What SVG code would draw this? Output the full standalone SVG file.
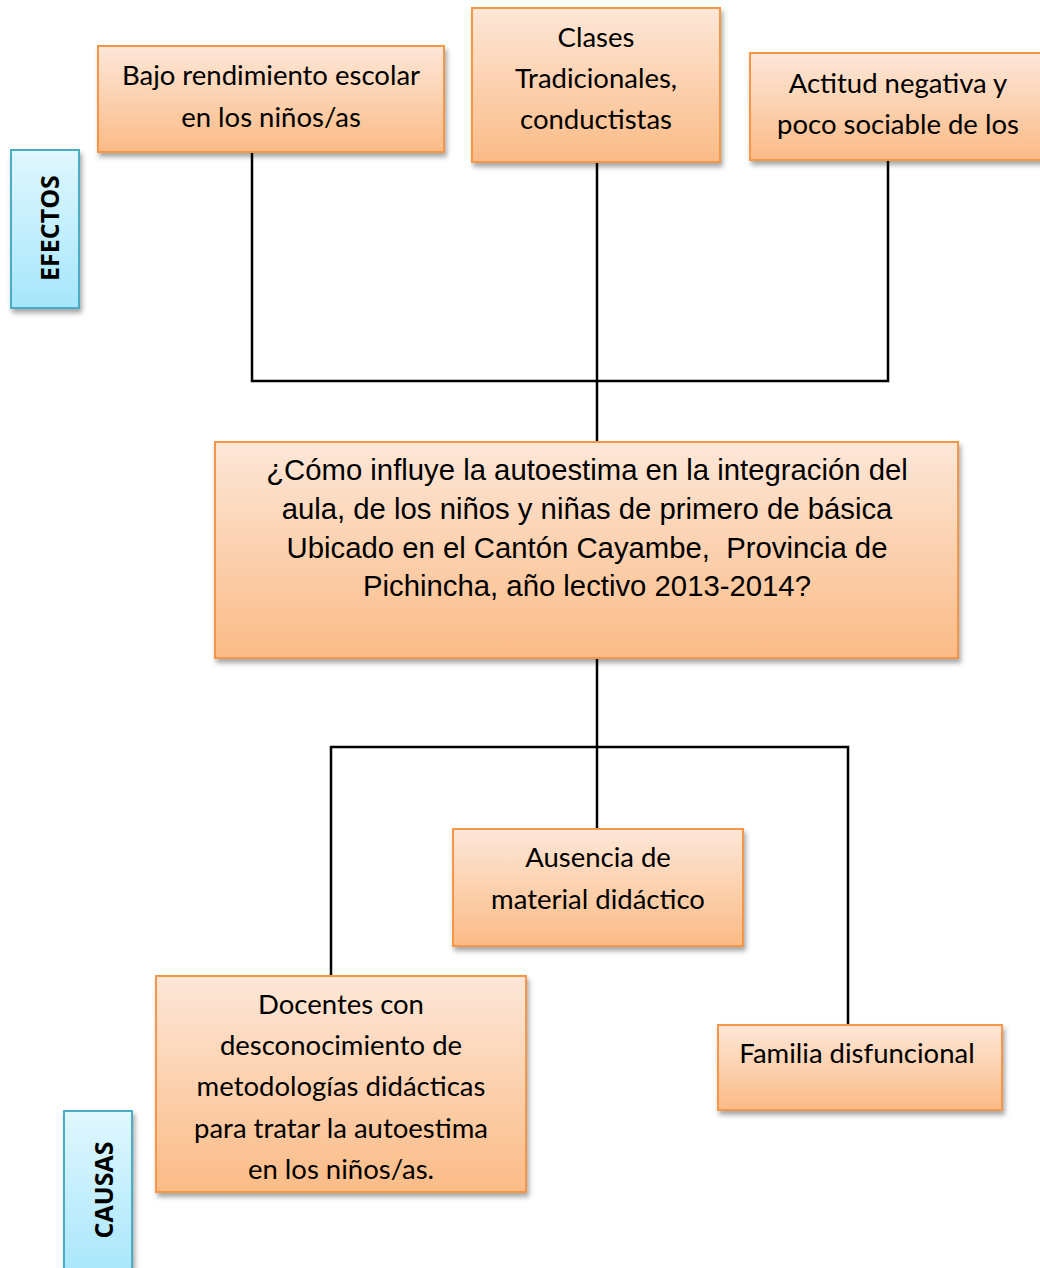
<svg xmlns="http://www.w3.org/2000/svg" width="1040" height="1268" viewBox="0 0 1040 1268">
<style>
.box{stroke:#f79646;stroke-width:2;fill:url(#og);filter:url(#sh)}
.lbl{stroke:#4bacc6;stroke-width:2;fill:url(#bg);filter:url(#sh)}
.t{font-family:Lato,"Open Sans","Liberation Sans",sans-serif;font-size:27.5px;fill:#000;text-anchor:middle;dominant-baseline:central}
.ta{font-family:"Liberation Sans",Arial,sans-serif;font-size:29.3px;fill:#000;text-anchor:middle;dominant-baseline:central}
.tv{font-family:"Open Sans","Liberation Sans",sans-serif;font-size:25px;font-weight:bold;fill:#000;text-anchor:middle;dominant-baseline:central}
.c{stroke:#000;stroke-width:2.5;fill:none;stroke-linecap:square}
</style>
<defs>
<linearGradient id="og" x1="0" y1="0" x2="0" y2="1"><stop offset="0" stop-color="#fde7d8"/><stop offset="1" stop-color="#fbbb86"/></linearGradient>
<linearGradient id="bg" x1="0" y1="0" x2="0" y2="1"><stop offset="0" stop-color="#e0f7fe"/><stop offset="1" stop-color="#a6e6fb"/></linearGradient>
<filter id="sh" x="-10%" y="-10%" width="130%" height="130%"><feDropShadow dx="2" dy="4" stdDeviation="2.5" flood-color="#000" flood-opacity="0.35"/></filter>
</defs>
<g id="connectors">
<path class="c" d="M252 153V381H888V161"/>
<path class="c" d="M597 163V441"/>
<path class="c" d="M597 659V830"/>
<path class="c" d="M331 976V747H848V1025"/>
</g>
<g id="efectos"><rect class="lbl" x="11" y="150" width="68" height="158"/><text class="tv" transform="translate(49 228) rotate(-90)">EFECTOS</text></g>
<g id="bajo"><rect class="box" x="98" y="46" width="346" height="106"/><text class="t" x="271" y="74">Bajo rendimiento escolar</text><text class="t" x="271" y="116">en los niños/as</text></g>
<g id="clases"><rect class="box" x="472" y="8" width="248" height="154"/><text class="t" x="596" y="36">Clases</text><text class="t" x="596" y="77">Tradicionales,</text><text class="t" x="596" y="118">conductistas</text></g>
<g id="actitud"><rect class="box" x="750" y="53" width="300" height="107"/><text class="t" x="898" y="82">Actitud negativa y</text><text class="t" x="898" y="123">poco sociable de los</text></g>
<g id="pregunta"><rect class="box" x="215" y="442" width="743" height="216"/><text class="ta" x="587" y="469">¿Cómo influye la autoestima en la integración del</text><text class="ta" x="587" y="508">aula, de los niños y niñas de primero de básica</text><text class="ta" x="587" y="547" xml:space="preserve">Ubicado en el Cantón Cayambe,  Provincia de</text><text class="ta" x="587" y="585">Pichincha, año lectivo 2013-2014?</text></g>
<g id="ausencia"><rect class="box" x="453" y="829" width="290" height="117"/><text class="t" x="598" y="856">Ausencia de</text><text class="t" x="598" y="898">material didáctico</text></g>
<g id="docentes"><rect class="box" x="156" y="976" width="370" height="216"/><text class="t" x="341" y="1003">Docentes con</text><text class="t" x="341" y="1044">desconocimiento de</text><text class="t" x="341" y="1085">metodologías didácticas</text><text class="t" x="341" y="1127">para tratar la autoestima</text><text class="t" x="341" y="1168">en los niños/as.</text></g>
<g id="familia"><rect class="box" x="718" y="1025" width="284" height="85"/><text class="t" x="857" y="1052">Familia disfuncional</text></g>
<g id="causas"><rect class="lbl" x="64" y="1111" width="68" height="170"/><text class="tv" transform="translate(103 1190) rotate(-90)">CAUSAS</text></g>
</svg>
